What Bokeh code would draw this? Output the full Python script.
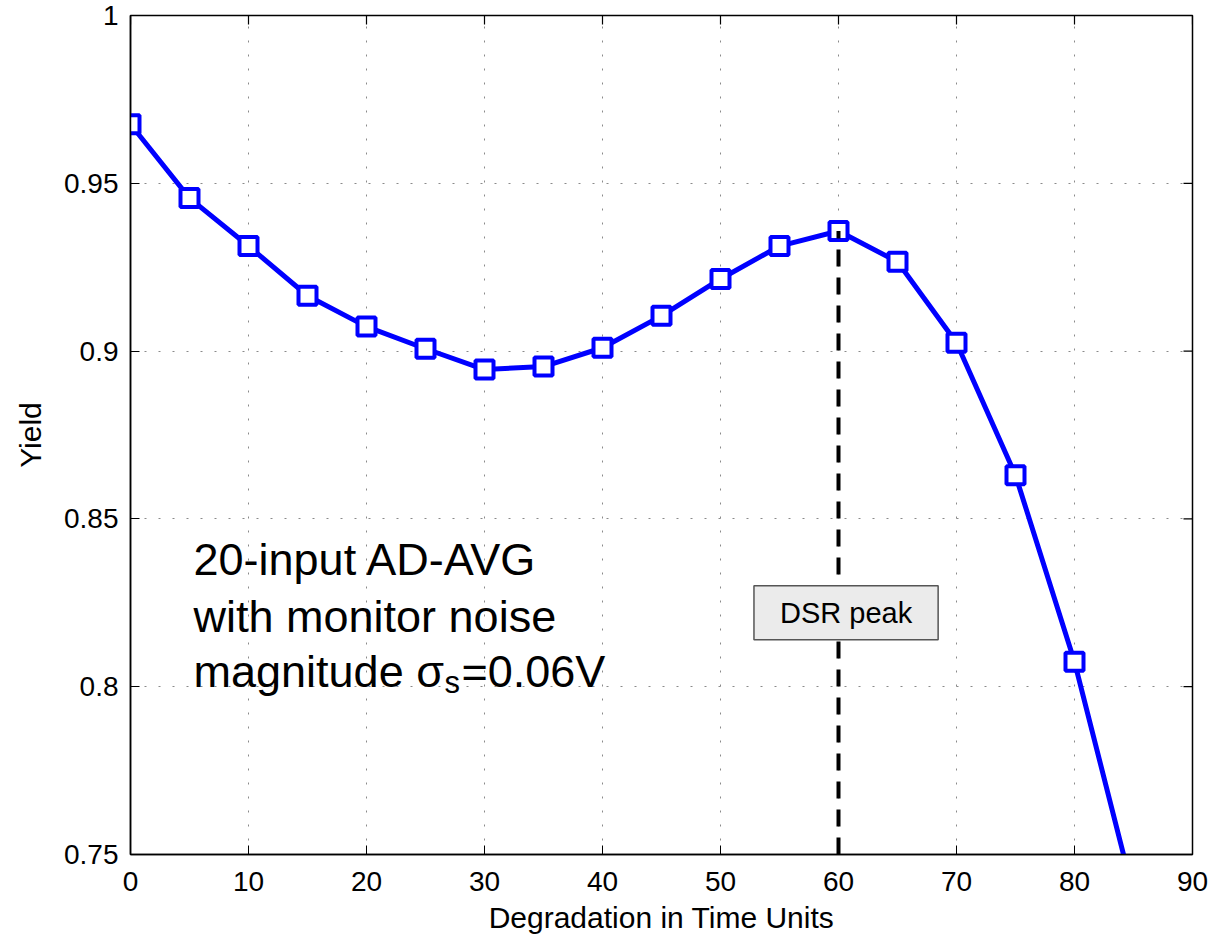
import math
from bokeh.plotting import figure
from bokeh.models import Label, FixedTicker, Range1d, ColumnDataSource
from bokeh.embed import file_html
from bokeh.resources import INLINE

# ---- data ----
degradation = [0, 5, 10, 15, 20, 25, 30, 35, 40, 45, 50, 55, 60, 65, 70, 75, 80, 85]
yield_vals = [0.9676, 0.9456, 0.9313, 0.9165, 0.9073, 0.9007, 0.8945, 0.8954, 0.9010,
              0.9105, 0.9215, 0.9313, 0.9358, 0.9266, 0.9025, 0.8630, 0.8074, 0.7383]
dsr_peak_x = 60
x_ticks = [0, 10, 20, 30, 40, 50, 60, 70, 80, 90]
y_ticks = [0.75, 0.8, 0.85, 0.9, 0.95, 1.0]
y_tick_labels = ["0.75", "0.8", "0.85", "0.9", "0.95", "1"]
x_label = "Degradation in Time Units"
y_label = "Yield"
note_lines = ["20-input AD-AVG", "with monitor noise"]
note_last = ["magnitude \u03c3", "s", "=0.06V"]
peak_label = "DSR peak"

FONT = "Liberation Sans"
XMIN, XMAX = 0, 90
YMIN, YMAX = 0.75, 1.0

p = figure(width=1208, height=936, output_backend="svg", toolbar_location=None,
           x_range=Range1d(XMIN, XMAX), y_range=Range1d(YMIN, YMAX),
           min_border_left=130, min_border_right=16, min_border_top=15, min_border_bottom=80)
p.background_fill_color = "white"
p.border_fill_color = "white"
p.outline_line_color = "black"
p.outline_line_width = 1.5

# axes styling
for ax in (p.xaxis[0], p.yaxis[0]):
    ax.axis_line_color = "black"
    ax.axis_line_width = 1.5
    ax.major_tick_in = 9
    ax.major_tick_out = 0
    ax.minor_tick_in = 0
    ax.minor_tick_out = 0
    ax.major_label_text_font = FONT
    ax.major_label_text_font_size = "28px"
    ax.major_label_text_color = "black"
    ax.axis_label_text_font = FONT
    ax.axis_label_text_font_size = "30px"
    ax.axis_label_text_font_style = "normal"
    ax.axis_label_text_color = "black"

p.xaxis[0].ticker = FixedTicker(ticks=x_ticks)
p.yaxis[0].ticker = FixedTicker(ticks=y_ticks)
p.yaxis[0].major_label_overrides = {t: s for t, s in zip(y_ticks, y_tick_labels)}
p.xaxis[0].axis_label = x_label
p.yaxis[0].axis_label = y_label
p.xaxis[0].major_label_standoff = 17
p.xaxis[0].axis_label_standoff = 7
p.yaxis[0].major_label_standoff = 12
p.yaxis[0].axis_label_standoff = 14

# grid
p.xgrid.ticker = FixedTicker(ticks=x_ticks)
p.ygrid.ticker = FixedTicker(ticks=y_ticks)
for g in (p.xgrid[0], p.ygrid[0]):
    g.grid_line_color = "#8a8a8a"
    g.grid_line_width = 1
    g.grid_line_dash = "2 12"

# inward box ticks on top and right (half of each dash is clipped by the frame)
p.scatter(x=x_ticks, y=[YMAX] * len(x_ticks), marker="dash", angle=math.pi / 2, size=18,
          line_color="black", line_width=1.2)
p.scatter(x=[XMAX] * len(y_ticks), y=y_ticks, marker="dash", size=18,
          line_color="black", line_width=1.2)

# series
src = ColumnDataSource(dict(x=degradation, y=yield_vals))
p.line("x", "y", source=src, line_color="#0000ff", line_width=5)
p.scatter("x", "y", source=src, marker="square", size=18, line_color="#0000ff",
          line_width=4, fill_color="white")

# DSR peak dashed line
peak_y = yield_vals[degradation.index(dsr_peak_x)]
p.segment(x0=[dsr_peak_x], y0=[YMIN], x1=[dsr_peak_x], y1=[peak_y],
          line_color="black", line_width=4, line_dash="17 11")

p.add_layout(Label(x=60.64, y=0.8220, text=peak_label, text_align="center", text_baseline="middle",
                   text_font=FONT, text_font_size="29px", text_color="black",
                   background_fill_color="#ebebeb", border_line_color="#555555",
                   border_line_width=1.5,
                   padding=dict(left=26, right=26, top=11, bottom=11)))

# annotation text
note_x = 5.34
note_y = [0.8380, 0.8210]
NOTE_SIZE = "45px"
for t, yy in zip(note_lines, note_y):
    p.add_layout(Label(x=note_x, y=yy, text=t, text_align="left", text_baseline="alphabetic",
                       text_font=FONT, text_font_size=NOTE_SIZE, text_color="black"))
y3 = 0.8044
p.add_layout(Label(x=note_x, y=y3, text=note_last[0], text_align="left", text_baseline="alphabetic",
                   text_font=FONT, text_font_size=NOTE_SIZE, text_color="black"))
p.add_layout(Label(x=note_x, y=y3, x_offset=251, y_offset=-11, text=note_last[1], text_align="left",
                   text_baseline="alphabetic", text_font=FONT, text_font_size="31px", text_color="black"))
p.add_layout(Label(x=note_x, y=y3, x_offset=268, text=note_last[2], text_align="left",
                   text_baseline="alphabetic", text_font=FONT, text_font_size=NOTE_SIZE, text_color="black"))

open("out.html", "w").write(file_html(p, INLINE))
